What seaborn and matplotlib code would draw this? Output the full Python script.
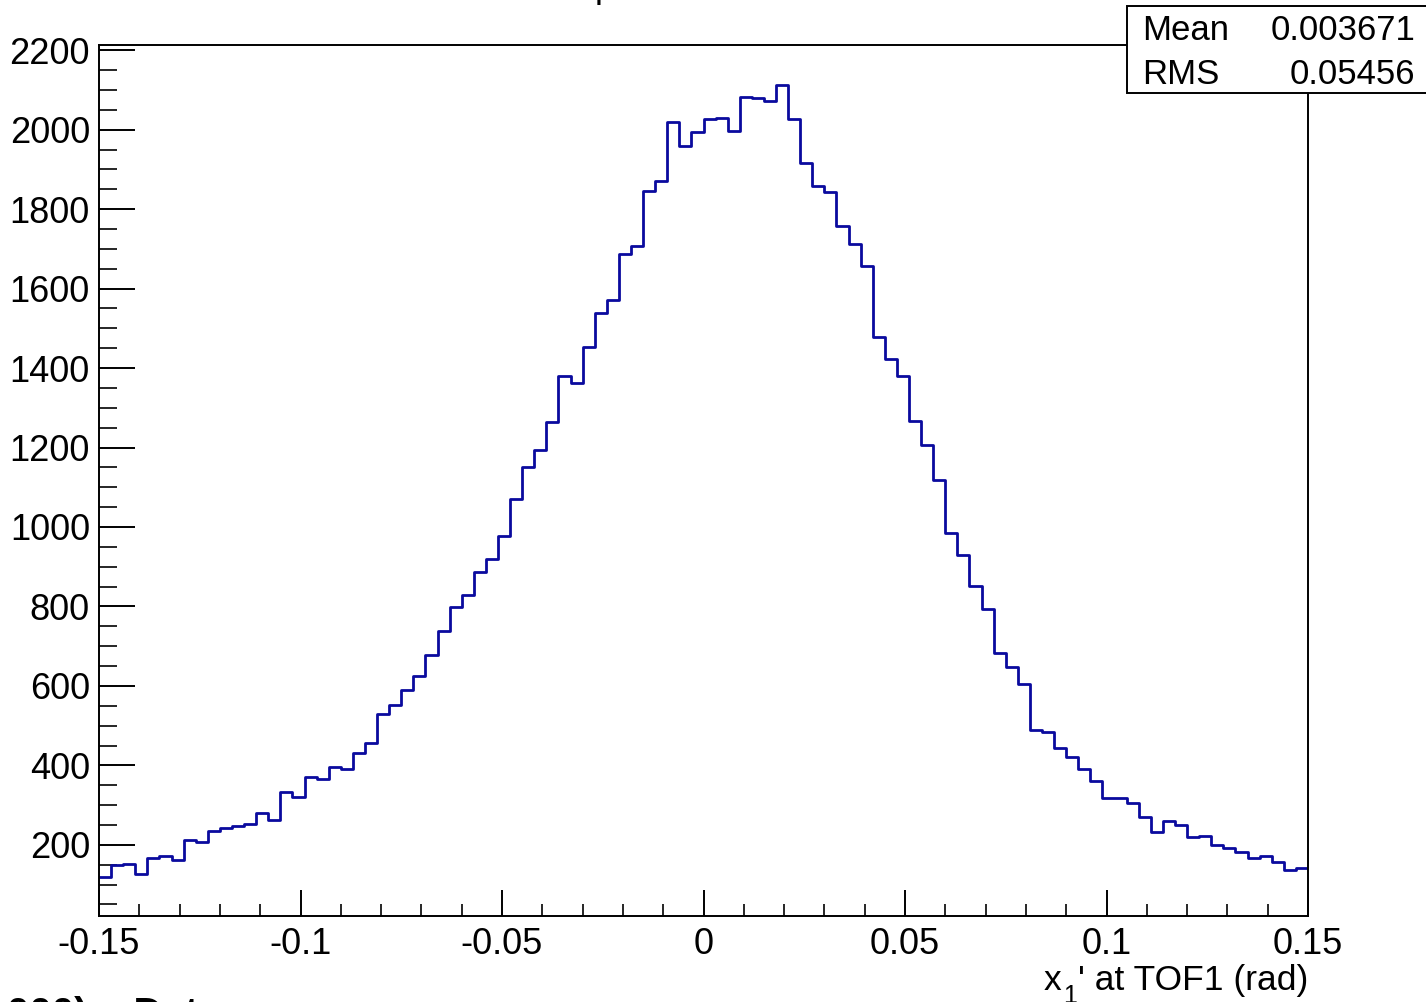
import numpy as np
import pandas as pd
import matplotlib
matplotlib.use("Agg")
import matplotlib.pyplot as plt
import seaborn as sns
from matplotlib.patches import Rectangle
from matplotlib.ticker import MultipleLocator, FixedLocator, FixedFormatter

# ---- data -------------------------------------------------------------
x_min, x_max, n_bins = -0.15, 0.15, 100
counts = [119, 149, 152, 127, 166, 172, 163, 213, 208, 236,
          243, 248, 253, 281, 262, 333, 320, 371, 366, 397,
          390, 432, 457, 530, 552, 590, 624, 677, 737, 798,
          828, 887, 920, 977, 1071, 1152, 1195, 1265, 1380, 1362,
          1453, 1538, 1571, 1686, 1706, 1846, 1871, 2020, 1958, 1995,
          2026, 2030, 1997, 2083, 2080, 2073, 2112, 2027, 1917, 1859,
          1843, 1757, 1713, 1658, 1479, 1424, 1381, 1266, 1207, 1119,
          986, 929, 851, 793, 682, 648, 604, 489, 484, 445,
          422, 391, 362, 318, 318, 305, 271, 232, 260, 250,
          221, 222, 199, 191, 181, 168, 171, 158, 137, 143]
x_ticks = [-0.15, -0.1, -0.05, 0.0, 0.05, 0.1, 0.15]
x_tick_labels = ["-0.15", "-0.1", "-0.05", "0", "0.05", "0.1", "0.15"]
y_ticks = [200, 400, 600, 800, 1000, 1200, 1400, 1600, 1800, 2000, 2200]
stat_names = ["Mean", "RMS"]
stat_values = ["0.003671", "0.05456"]
x_label_main = "x"
x_label_sub = "1"
x_label_rest = "' at TOF1 (rad)"

edges = np.linspace(x_min, x_max, n_bins + 1)
centers = 0.5 * (edges[:-1] + edges[1:])
df = pd.DataFrame({"x": centers, "n": counts})

# ---- style ------------------------------------------------------------
sns.set_theme(style="white")
plt.rcParams["font.family"] = ["Liberation Sans", "DejaVu Sans"]

W, H = 1426, 1002
fig = plt.figure(figsize=(W / 100, H / 100), dpi=100)
fig.patch.set_facecolor("white")
ax = fig.add_axes([99 / W, 1 - 916 / H, (1308 - 99) / W, (916 - 45) / H])
ax.set_facecolor("white")

sns.histplot(data=df, x="x", weights="n", bins=n_bins, binrange=(x_min, x_max),
             element="step", fill=False, color="#0a0a9e", linewidth=2.0, ax=ax)

ax.set_xlim(x_min, x_max)
ax.set_ylim(21, 2213)
ax.set_xlabel("")
ax.set_ylabel("")

for sp in ax.spines.values():
    sp.set_visible(True)
    sp.set_color("black")
    sp.set_linewidth(1.4)

ax.xaxis.set_major_locator(FixedLocator(x_ticks))
ax.xaxis.set_major_formatter(FixedFormatter(x_tick_labels))
ax.xaxis.set_minor_locator(MultipleLocator(0.01))
ax.yaxis.set_major_locator(FixedLocator(y_ticks))
ax.yaxis.set_minor_locator(MultipleLocator(50))

ax.tick_params(axis="x", which="major", direction="in", length=18.5, width=1.4,
               pad=8, labelsize=26, colors="black", bottom=True, top=False)
ax.tick_params(axis="x", which="minor", direction="in", length=9, width=1.4,
               bottom=True, top=False)
ax.tick_params(axis="y", which="major", direction="in", length=26, width=1.4,
               pad=6.5, labelsize=26, colors="black", left=True, right=False)
ax.tick_params(axis="y", which="minor", direction="in", length=13, width=1.4,
               left=True, right=False)

# x axis title (right aligned, with subscript built from pieces)
renderer = fig.canvas.get_renderer()
base_y = 1 - 990 / H
t_rest = fig.text(1308 / W, base_y, x_label_rest, ha="right", va="baseline",
                  fontsize=25.5, color="black")
bb = t_rest.get_window_extent(renderer)
x_rest_left = bb.x0
t_sub = fig.text((x_rest_left - 1) / W, 1 - 1003 / H, x_label_sub, ha="right",
                 va="baseline", fontsize=18, color="black")
bb2 = t_sub.get_window_extent(renderer)
fig.text((bb2.x0 - 1) / W, base_y, x_label_main, ha="right", va="baseline",
         fontsize=25.5, color="black")

# partially visible title and bottom text (clipped by figure edges)
fig.text(605 / W, 1 + 2 / H, "p", ha="center", va="baseline",
         fontsize=25.5, color="black")
fig.text(7 / W, 1 - 996 / H, "000) + Data", ha="left", va="top",
         fontsize=29, fontweight="bold", color="black")

# stats box
box = Rectangle((1127 / W, 1 - 93 / H), (1440 - 1127) / W, (93 - 6) / H,
                transform=fig.transFigure, facecolor="white",
                edgecolor="black", linewidth=1.4, zorder=5)
fig.add_artist(box)
row_y = [30, 74]
for name, val, ry in zip(stat_names, stat_values, row_y):
    fig.text(1142 / W, 1 - ry / H, name, ha="left", va="center",
             fontsize=25, color="black", zorder=6)
    fig.text(1415 / W, 1 - ry / H, val, ha="right", va="center",
             fontsize=25, color="black", zorder=6)

fig.savefig("out.png", dpi=100)
